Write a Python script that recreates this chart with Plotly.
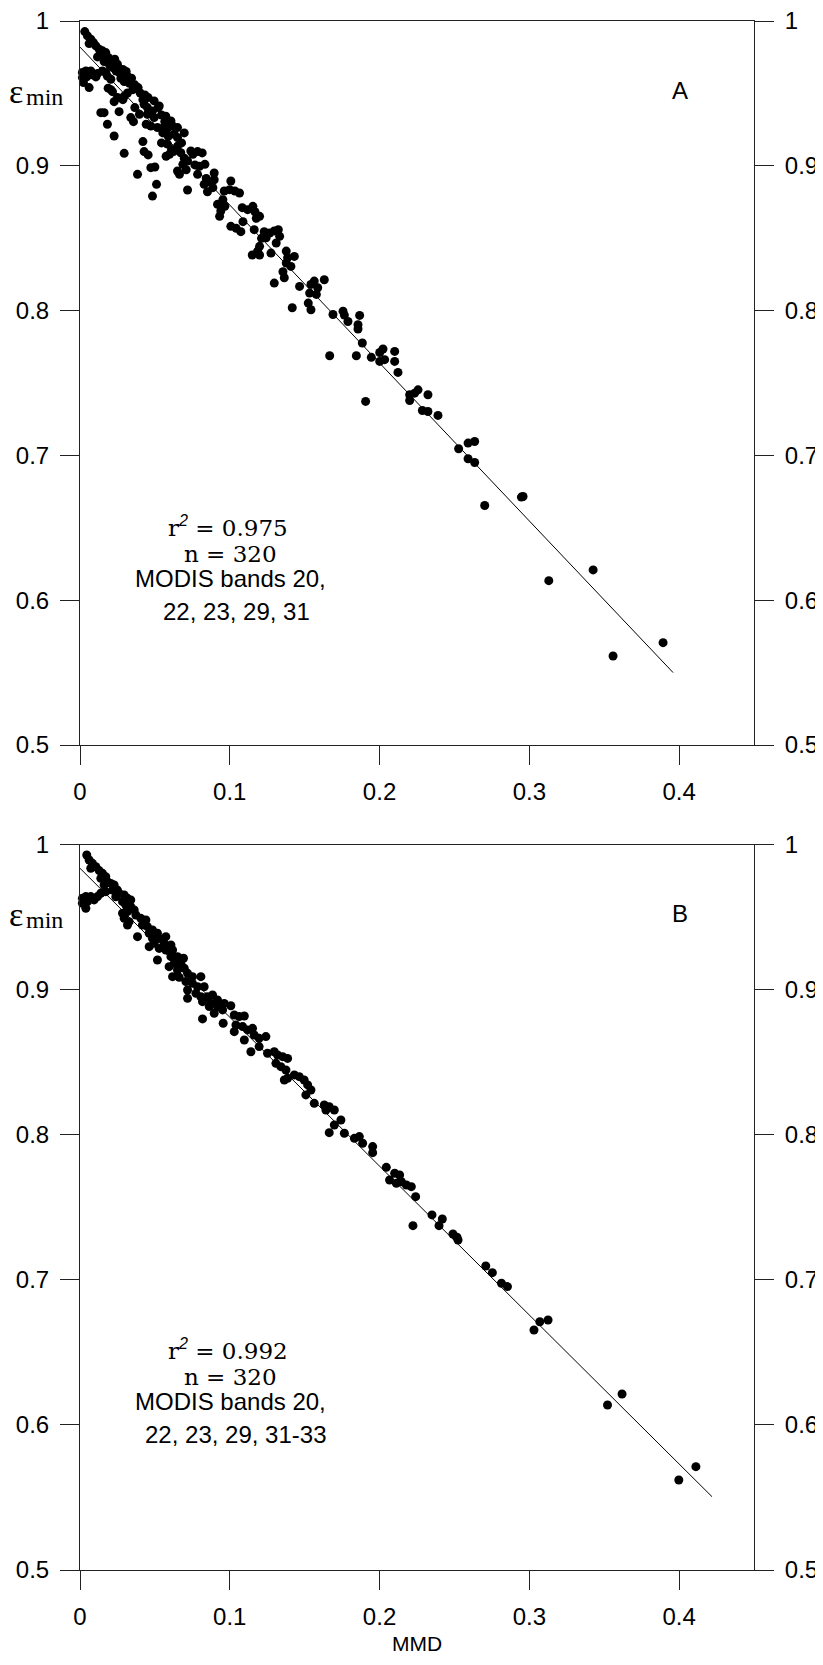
import plotly.graph_objects as go

# ---------------- data ----------------
mmd_a = [
    0.0032, 0.0050, 0.0072, 0.0090, 0.0061, 0.0106, 0.0128, 0.0150, 0.0172, 0.0139,
    0.0188, 0.0117, 0.0161, 0.0206, 0.0232, 0.0197, 0.0219, 0.0250, 0.0241, 0.0264,
    0.0286, 0.0308, 0.0273, 0.0317, 0.0344, 0.0295, 0.0330, 0.0366, 0.0353, 0.0388,
    0.0402, 0.0433, 0.0455, 0.0420, 0.0317, 0.0295, 0.0286, 0.0250, 0.0228, 0.0206,
    0.0188,
    0.0016, 0.0016, 0.0039, 0.0045, 0.0072, 0.0083, 0.0106, 0.0117, 0.0150, 0.0172,
    0.0183, 0.0061, 0.0023, 0.0206,
    0.0139, 0.0161, 0.0183, 0.0228, 0.0295, 0.0384, 0.0484, 0.0511, 0.0473, 0.0500,
    0.0428, 0.0455, 0.0420, 0.0261, 0.0217, 0.0339, 0.0357, 0.0366, 0.0397, 0.0718,
    0.0651,
    0.0450, 0.0484, 0.0522, 0.0544, 0.0573, 0.0566, 0.0607, 0.0618, 0.0584, 0.0517,
    0.0473, 0.0442, 0.0553, 0.0589, 0.0629, 0.0696, 0.0678, 0.0651, 0.0611, 0.0575,
    0.0598, 0.0624, 0.0544, 0.0696, 0.0687, 0.0718, 0.0754, 0.0785, 0.0816, 0.0767,
    0.0798, 0.0834, 0.0785, 0.0709, 0.0664, 0.0843, 0.0865, 0.0896, 0.0829, 0.0851,
    0.0887, 0.0896, 0.0963, 0.0999, 0.1034, 0.1065, 0.1007, 0.0954, 0.0918, 0.0940,
    0.0932, 0.0967, 0.1083, 0.1119, 0.1154, 0.1168, 0.1199, 0.1177, 0.1088, 0.1007,
    0.1043, 0.1074, 0.1163, 0.1230, 0.1266, 0.1297, 0.1324, 0.1333, 0.1212, 0.1199,
    0.1186, 0.1150, 0.1199, 0.1275, 0.1310, 0.1243, 0.1377, 0.1386, 0.1431, 0.1408,
    0.1377, 0.1355, 0.1364, 0.1297, 0.1466, 0.1542, 0.1564, 0.1587, 0.1631, 0.1578,
    0.1533, 0.1524, 0.1542, 0.1417, 0.1689, 0.1756, 0.1765, 0.1867,
    0.0428, 0.0495, 0.0529, 0.0450, 0.0495, 0.0558, 0.0651, 0.0651, 0.0740, 0.0673,
    0.0584,
    0.1789, 0.1856, 0.1856, 0.1885, 0.1667, 0.1845, 0.1907, 0.1945, 0.2001, 0.2023,
    0.2001, 0.2034, 0.2101, 0.2101, 0.2123, 0.2201, 0.2201, 0.2234, 0.2257, 0.2323,
    0.2286, 0.2323, 0.2390, 0.2528, 0.2591, 0.2635, 0.2591, 0.2635, 0.2702, 0.2947,
    0.2958, 0.3130, 0.3426, 0.3559, 0.3893,
]
emin_a = [
    0.9927, 0.9897, 0.9874, 0.9851, 0.9844, 0.9828, 0.9805, 0.9794, 0.9782, 0.9766,
    0.9748, 0.9752, 0.9720, 0.9724, 0.9736, 0.9697, 0.9678, 0.9701, 0.9655, 0.9642,
    0.9665, 0.9651, 0.9605, 0.9619, 0.9605, 0.9582, 0.9570, 0.9559, 0.9526, 0.9540,
    0.9503, 0.9489, 0.9471, 0.9457, 0.9503, 0.9480, 0.9457, 0.9471, 0.9443, 0.9526,
    0.9536,
    0.9644, 0.9609, 0.9655, 0.9614, 0.9655, 0.9628, 0.9614, 0.9637, 0.9655, 0.9644,
    0.9619, 0.9540, 0.9575, 0.9598,
    0.9367, 0.9367, 0.9287, 0.9206, 0.9086, 0.8941, 0.8791, 0.8872, 0.8987, 0.8992,
    0.9098, 0.9075, 0.9167, 0.9374, 0.9512, 0.9333, 0.9305, 0.9402, 0.9356, 0.8833,
    0.8964,
    0.9402, 0.9379, 0.9402, 0.9351, 0.9342, 0.9305, 0.9310, 0.9275, 0.9259, 0.9264,
    0.9275, 0.9287, 0.9227, 0.9204, 0.9218, 0.9227, 0.9158, 0.9135, 0.9112, 0.9066,
    0.9080, 0.9098, 0.9158, 0.9052, 0.9010, 0.9033, 0.9080, 0.9098, 0.9089, 0.9006,
    0.8997, 0.9010, 0.8941, 0.8973, 0.8941, 0.8913, 0.8890, 0.8904, 0.8872, 0.8821,
    0.8849, 0.8950, 0.8826, 0.8835, 0.8826, 0.8812, 0.8895, 0.8766, 0.8734, 0.8688,
    0.8651, 0.8720, 0.8711, 0.8697, 0.8720, 0.8683, 0.8651, 0.8637, 0.8614, 0.8582,
    0.8568, 0.8545, 0.8559, 0.8545, 0.8536, 0.8550, 0.8559, 0.8513, 0.8499, 0.8444,
    0.8411, 0.8384, 0.8384, 0.8397, 0.8467, 0.8503, 0.8411, 0.8365, 0.8374, 0.8305,
    0.8328, 0.8268, 0.8227, 0.8190, 0.8167, 0.8181, 0.8204, 0.8158, 0.8213, 0.8112,
    0.8121, 0.8052, 0.8006, 0.8020, 0.7973, 0.7996, 0.7969, 0.7967,
    0.9425, 0.9448, 0.9413, 0.9356, 0.9333, 0.9264, 0.9264, 0.9195, 0.9102, 0.9090,
    0.9150,
    0.7925, 0.7903, 0.7873, 0.7776, 0.7688, 0.7688, 0.7373, 0.7677, 0.7711, 0.7735,
    0.7649, 0.7661, 0.7718, 0.7649, 0.7573, 0.7419, 0.7379, 0.7430, 0.7453, 0.7419,
    0.7310, 0.7303, 0.7276, 0.7046, 0.7085, 0.7096, 0.6977, 0.6951, 0.6654, 0.6712,
    0.6716, 0.6135, 0.6209, 0.5615, 0.5707,
]

mmd_b = [
    0.0045, 0.0061, 0.0083, 0.0072, 0.0106, 0.0128, 0.0150, 0.0139, 0.0172, 0.0183,
    0.0161, 0.0206, 0.0228, 0.0217, 0.0250, 0.0261, 0.0239, 0.0295, 0.0317, 0.0284,
    0.0339, 0.0306, 0.0339, 0.0362, 0.0317, 0.0284, 0.0373, 0.0295, 0.0328, 0.0317,
    0.0406, 0.0440, 0.0417, 0.0450, 0.0384, 0.0462, 0.0484, 0.0517, 0.0484, 0.0529,
    0.0573, 0.0495, 0.0562, 0.0607, 0.0462, 0.0529, 0.0573, 0.0618, 0.0517, 0.0607,
    0.0651, 0.0691, 0.0629, 0.0673, 0.0595, 0.0651, 0.0696, 0.0618, 0.0662, 0.0718,
    0.0751, 0.0807, 0.0707, 0.0751, 0.0785, 0.0829, 0.0718, 0.0774, 0.0718, 0.0807,
    0.0851, 0.0885, 0.0818, 0.0874, 0.0918, 0.0963, 0.1007, 0.0863, 0.0918, 0.0952,
    0.0896, 0.0818, 0.0956, 0.1030, 0.1063, 0.1097, 0.1041, 0.1030, 0.1086, 0.1119,
    0.1152, 0.1097, 0.1163, 0.1196, 0.1241, 0.1141, 0.1196, 0.1252, 0.1297, 0.1319,
    0.1353, 0.1386, 0.1308, 0.1341, 0.1375, 0.1386, 0.1364, 0.1431, 0.1464, 0.1497,
    0.1520, 0.1542, 0.1508, 0.1564, 0.1631, 0.1664, 0.1642, 0.1698, 0.1742, 0.1698,
    0.1664, 0.1765, 0.1832, 0.1865, 0.1887, 0.1954, 0.1954,
    0.0016, 0.0016, 0.0039, 0.0050, 0.0072, 0.0094, 0.0039, 0.0117, 0.0139, 0.0172,
    0.2045, 0.2067, 0.2101, 0.2134, 0.2112, 0.2146, 0.2179, 0.2212, 0.2241, 0.2223,
    0.2350, 0.2397, 0.2419, 0.2490, 0.2517, 0.2524, 0.2709, 0.2753, 0.2814, 0.2854,
    0.3031, 0.3070, 0.3125, 0.3522, 0.3619, 0.3998, 0.4112,
]
emin_b = [
    0.9928, 0.9893, 0.9870, 0.9836, 0.9847, 0.9820, 0.9801, 0.9767, 0.9778, 0.9744,
    0.9721, 0.9732, 0.9721, 0.9686, 0.9686, 0.9663, 0.9640, 0.9652, 0.9629, 0.9606,
    0.9618, 0.9583, 0.9572, 0.9549, 0.9537, 0.9526, 0.9514, 0.9491, 0.9468, 0.9445,
    0.9491, 0.9480, 0.9445, 0.9434, 0.9365, 0.9388, 0.9411, 0.9388, 0.9353, 0.9353,
    0.9365, 0.9319, 0.9319, 0.9307, 0.9296, 0.9284, 0.9273, 0.9273, 0.9204, 0.9227,
    0.9227, 0.9216, 0.9181, 0.9181, 0.9158, 0.9135, 0.9147, 0.9089, 0.9085, 0.9112,
    0.9089, 0.9089, 0.9055, 0.9043, 0.9020, 0.9020, 0.8997, 0.8974, 0.8940, 0.8951,
    0.8951, 0.8963, 0.8917, 0.8905, 0.8928, 0.8905, 0.8889, 0.8883, 0.8883, 0.8860,
    0.8837, 0.8798, 0.8768, 0.8825, 0.8814, 0.8818, 0.8756, 0.8710, 0.8745, 0.8722,
    0.8733, 0.8653, 0.8687, 0.8664, 0.8676, 0.8572, 0.8607, 0.8561, 0.8572, 0.8549,
    0.8538, 0.8526, 0.8492, 0.8469, 0.8446, 0.8389, 0.8377, 0.8412, 0.8400, 0.8377,
    0.8343, 0.8308, 0.8274, 0.8216, 0.8205, 0.8193, 0.8170, 0.8170, 0.8101, 0.8067,
    0.8014, 0.8010, 0.7975, 0.7987, 0.7941, 0.7918, 0.7876,
    0.9629, 0.9595, 0.9641, 0.9606, 0.9641, 0.9618, 0.9560, 0.9641, 0.9664, 0.9675,
    0.7775, 0.7688, 0.7734, 0.7722, 0.7665, 0.7676, 0.7653, 0.7642, 0.7573, 0.7373,
    0.7447, 0.7373, 0.7419, 0.7316, 0.7293, 0.7274, 0.7095, 0.7049, 0.6976, 0.6953,
    0.6654, 0.6711, 0.6723, 0.6137, 0.6213, 0.5620, 0.5712,
]

fit_a_x = [0.0, 0.396]
fit_a_y = [0.982, 0.550]
fit_b_x = [0.0, 0.422]
fit_b_y = [0.9836, 0.5505]

x_ticks = [0, 0.1, 0.2, 0.3, 0.4]
x_tick_labels = ["0", "0.1", "0.2", "0.3", "0.4"]
y_ticks = [0.5, 0.6, 0.7, 0.8, 0.9, 1.0]
y_tick_labels = ["0.5", "0.6", "0.7", "0.8", "0.9", "1"]

# ---------------- figure ----------------
# The page body keeps its default 8px margin, so the figure sits 8px in from the
# corner.  Width may reach the right window edge; height is kept so that the page
# does not need a vertical scrollbar.
OFF = 8
W, H = 823 - OFF, 1665 - 2 * OFF
PLOT_L, PLOT_R, PLOT_T, PLOT_B = 80, 754, 21, 1570   # page pixels of the plot box
ML, MR = PLOT_L - OFF, (OFF + W) - PLOT_R
MT, MB = PLOT_T - OFF, (OFF + H) - PLOT_B
PW = PLOT_R - PLOT_L
PH = PLOT_B - PLOT_T


def px(xp):
    return (xp - PLOT_L) / PW


def py(yp):
    return (PLOT_B - yp) / PH


SANS = "Liberation Sans, Arial, sans-serif"
SERIF = "Liberation Serif, Times New Roman, serif"
WSERIF = "DejaVu Serif, serif"
AXC = "#222222"
TICKFONT = dict(family=SANS, size=24, color="black")

fig = go.Figure()

fig.add_trace(go.Scatter(x=fit_a_x, y=fit_a_y, xaxis="x", yaxis="y", mode="lines",
                         line=dict(color="black", width=1), hoverinfo="skip", showlegend=False))
fig.add_trace(go.Scatter(x=mmd_a, y=emin_a, xaxis="x", yaxis="y3", mode="markers",
                         marker=dict(color="black", size=9, line=dict(width=0)),
                         cliponaxis=False, showlegend=False))
fig.add_trace(go.Scatter(x=fit_b_x, y=fit_b_y, xaxis="x2", yaxis="y2", mode="lines",
                         line=dict(color="black", width=1), hoverinfo="skip", showlegend=False))
fig.add_trace(go.Scatter(x=mmd_b, y=emin_b, xaxis="x2", yaxis="y4", mode="markers",
                         marker=dict(color="black", size=9, line=dict(width=0)),
                         cliponaxis=False, showlegend=False))

dom_a = [py(745), 1.0]
dom_b = [0.0, py(844.5)]

xcommon = dict(range=[0, 0.45], tickvals=x_ticks, ticktext=x_tick_labels, ticks="outside",
               ticklen=19, tickwidth=1, tickcolor=AXC, showline=True, linecolor=AXC,
               linewidth=1, mirror=True, showgrid=False, zeroline=False, automargin=False,
               tickfont=TICKFONT, ticklabelstandoff=6, ticklabeloverflow="allow",
               domain=[0, 1])
ycommon = dict(range=[0.5, 1.0], tickvals=y_ticks, ticktext=y_tick_labels, ticks="outside",
               ticklen=19, tickwidth=1, tickcolor=AXC, showline=True, linecolor=AXC,
               linewidth=1, showgrid=False, zeroline=False, tickfont=TICKFONT,
               automargin=False, ticklabelstandoff=6, ticklabeloverflow="allow")

fig.update_layout(
    width=W, height=H,
    margin=dict(l=ML, r=MR, t=MT, b=MB, pad=0, autoexpand=False),
    paper_bgcolor="white", plot_bgcolor="white",
    showlegend=False,
    xaxis=dict(anchor="y", **xcommon),
    xaxis2=dict(anchor="y2", **xcommon),
    yaxis=dict(anchor="x", domain=dom_a, side="left", **ycommon),
    yaxis3=dict(anchor="x", overlaying="y", side="right", **ycommon),
    yaxis2=dict(anchor="x2", domain=dom_b, side="left", **ycommon),
    yaxis4=dict(anchor="x2", overlaying="y2", side="right", **ycommon),
)

anns = []


def add(text, xp, yp, family, size, yanchor="middle"):
    anns.append(dict(text=text, x=px(xp), y=py(yp), xref="paper", yref="paper",
                     xanchor="center", yanchor=yanchor, showarrow=False, borderpad=0,
                     font=dict(family=family, size=size, color="black")))


sup2 = '<sup><span style="font-family:Liberation Sans;font-style:italic">2</span></sup>'
for dy, label, r2, bands, xb in [(0, "A", "0.975", "22, 23, 29, 31", 236),
                                 (823, "B", "0.992", "22, 23, 29, 31-33", 235)]:
    add(label, 680, 90 + dy, SANS, 24)
    add("ε", 16, 91 + dy, SERIF, 34)
    add("min", 44, 97 + dy, SERIF, 24)
    add("r" + sup2 + " = " + r2, 227.5, 526 + dy, WSERIF, 23)
    add("n = 320", 230, 554 + dy, WSERIF, 23)
    add("MODIS bands 20,", 230, 578 + dy, SANS, 24)
    add(bands, xb, 611 + dy, SANS, 24)

# x-axis title, kept inside the bottom edge of the figure
add("MMD", 417, OFF + H - 1, SANS, 21, yanchor="bottom")

fig.update_layout(annotations=anns)

fig.write_html("out.html")
